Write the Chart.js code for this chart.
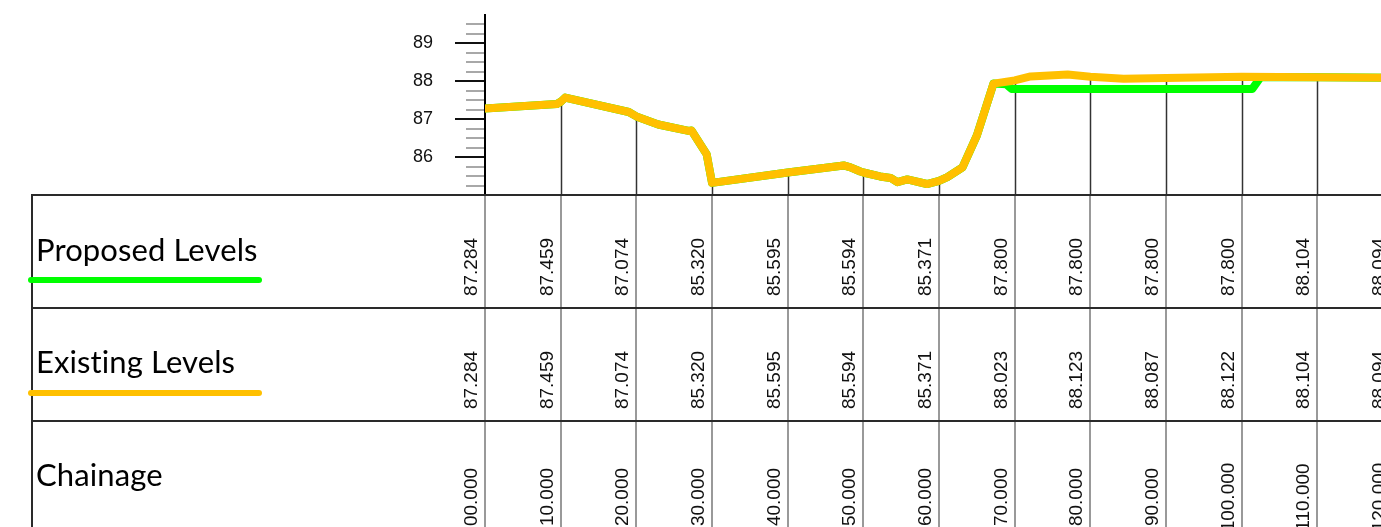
<!DOCTYPE html>
<html>
<head>
<meta charset="utf-8">
<script src="https://cdn.jsdelivr.net/npm/chart.js@4.4.1/dist/chart.umd.min.js"></script>
<style>
html, body { margin: 0; padding: 0; background: #fff; overflow: hidden; }
#wrap { width: 1499px; height: 560px; }
</style>
</head>
<body>
<div id="wrap"><canvas id="sezione" width="1499" height="560"></canvas></div>
<script>
// profilo longitudinale: livelli esistenti e di progetto
const existingCh = [0, 9.5, 10, 10.6, 19, 20, 22.9, 26.9, 27.3, 29.3, 30, 40, 47.4, 48.3, 49.6, 50,
    52.2, 53.6, 54.5, 55.8, 58.4, 60, 61.1, 63.1, 65, 67.2, 70, 72.1, 77, 80, 84.4, 90, 100, 110, 120];
const existingLv = [87.284, 87.40, 87.459, 87.57, 87.19, 87.074, 86.86, 86.69, 86.70, 86.07, 85.320, 85.595, 85.78, 85.73, 85.62, 85.594,
    85.49, 85.45, 85.34, 85.41, 85.29, 85.371, 85.47, 85.73, 86.57, 87.94, 88.023, 88.13, 88.18, 88.123, 88.07, 88.087, 88.122, 88.104, 88.094];

const proposedCh = [0, 9.5, 10, 10.6, 19, 20, 22.9, 26.9, 27.3, 29.3, 30, 40, 47.4, 48.3, 49.6, 50,
    52.2, 53.6, 54.5, 55.8, 58.4, 60, 61.1, 63.1, 65, 67.2, 68.9, 69.6, 70, 80, 90, 100, 101.4, 102.5, 110, 120];
const proposedLv = [87.284, 87.40, 87.459, 87.57, 87.19, 87.074, 86.86, 86.69, 86.70, 86.07, 85.320, 85.595, 85.78, 85.73, 85.62, 85.594,
    85.49, 85.45, 85.34, 85.41, 85.29, 85.371, 85.47, 85.73, 86.57, 87.94, 87.92, 87.80, 87.800, 87.800, 87.800, 87.800, 87.80, 88.11, 88.104, 88.094];

// valori della tabella
const tableCh = [0, 10, 20, 30, 40, 50, 60, 70, 80, 90, 100, 110, 120];
const proposedAt = [87.284, 87.459, 87.074, 85.320, 85.595, 85.594, 85.371, 87.800, 87.800, 87.800, 87.800, 88.104, 88.094];
const existingAt = [87.284, 87.459, 87.074, 85.320, 85.595, 85.594, 85.371, 88.023, 88.123, 88.087, 88.122, 88.104, 88.094];

const rowNames = ['Proposed Levels', 'Existing Levels', 'Chainage'];
const colProposed = '#00ff00';
const colExisting = '#ffc000';

function punti(ch, lv){
    return ch.map((c, i) => ({ x: c, y: lv[i] }));
}

function fmtCh(c){
    return String(c).padStart(2, '0') + '.000';
}

const tabella = {
    id: 'tabella',
    beforeDatasetsDraw(chart){
        const ctx = chart.ctx, xs = chart.scales.x, ys = chart.scales.y;
        const base = chart.chartArea.bottom;
        const axisX = chart.chartArea.left;
        ctx.save();
        // tacche asse y
        ys.ticks.forEach(t => {
            const v = t.value;
            if (v <= ys.min || v >= ys.max) return;
            const py = Math.round(ys.getPixelForValue(v));
            const major = Number.isInteger(v);
            ctx.strokeStyle = major ? '#111' : '#a8a8a8';
            ctx.lineWidth = 2;
            ctx.beginPath();
            ctx.moveTo(axisX - (major ? 30 : 19), py);
            ctx.lineTo(axisX - 1, py);
            ctx.stroke();
        });
        // linee verticali nel profilo
        ctx.strokeStyle = '#333';
        ctx.lineWidth = 1.5;
        tableCh.forEach((c, i) => {
            if (c === 0) return;
            const px = Math.round(xs.getPixelForValue(c)) + 0.5;
            const top = ys.getPixelForValue(Math.max(existingAt[i], proposedAt[i]));
            ctx.beginPath();
            ctx.moveTo(px, top);
            ctx.lineTo(px, base);
            ctx.stroke();
        });
        ctx.restore();
    },
    afterDraw(chart){
        const ctx = chart.ctx, xs = chart.scales.x;
        const W = chart.width, H = chart.height;
        const r0 = Math.round(chart.chartArea.bottom);
        const rows = [r0, r0 + 113, r0 + 226];
        ctx.save();

        // colonne
        ctx.strokeStyle = '#999';
        ctx.lineWidth = 2;
        tableCh.forEach(c => {
            const px = Math.round(xs.getPixelForValue(c));
            ctx.beginPath();
            ctx.moveTo(px, r0);
            ctx.lineTo(px, H);
            ctx.stroke();
        });

        // righe e bordo sinistro
        ctx.strokeStyle = '#2a2a2a';
        ctx.lineWidth = 2;
        rows.forEach(ry => {
            ctx.beginPath();
            ctx.moveTo(32, ry);
            ctx.lineTo(W, ry);
            ctx.stroke();
        });
        ctx.beginPath();
        ctx.moveTo(32, r0 - 1);
        ctx.lineTo(32, H);
        ctx.stroke();

        // nomi righe
        ctx.fillStyle = '#000';
        ctx.font = '31px Lato';
        ctx.letterSpacing = '0.1px';
        ctx.textAlign = 'left';
        ctx.textBaseline = 'alphabetic';
        ctx.fillText(rowNames[0], 36, rows[0] + 66);
        ctx.fillText(rowNames[1], 36, rows[1] + 65);
        ctx.fillText(rowNames[2], 36, rows[2] + 65);
        ctx.letterSpacing = '0px';

        // legenda
        ctx.lineCap = 'round';
        ctx.lineWidth = 6;
        ctx.strokeStyle = colProposed;
        ctx.beginPath(); ctx.moveTo(31, rows[0] + 85); ctx.lineTo(259, rows[0] + 85); ctx.stroke();
        ctx.strokeStyle = colExisting;
        ctx.beginPath(); ctx.moveTo(31, rows[1] + 85); ctx.lineTo(259, rows[1] + 85); ctx.stroke();

        // valori ruotati
        ctx.fillStyle = '#111';
        ctx.font = '19px "Liberation Sans", Arial, sans-serif';
        ctx.textAlign = 'center';
        tableCh.forEach((c, i) => {
            const bx = Math.round(xs.getPixelForValue(c)) - 8;
            const testi = [proposedAt[i].toFixed(3), existingAt[i].toFixed(3), fmtCh(c)];
            const centri = [rows[0] + 72, rows[1] + 72, rows[2] + 76];
            testi.forEach((t, k) => {
                ctx.save();
                ctx.translate(bx, centri[k]);
                ctx.rotate(-Math.PI / 2);
                ctx.fillText(t, 0, 0);
                ctx.restore();
            });
        });
        ctx.restore();
    }
};

const config = {
    type: 'line',
    data: {
        datasets: [{
            label: 'Existing Levels',
            data: punti(existingCh, existingLv),
            borderColor: colExisting,
            borderWidth: 8,
            order: 0
        }, {
            label: 'Proposed Levels',
            data: punti(proposedCh, proposedLv),
            borderColor: colProposed,
            borderWidth: 8,
            order: 1
        }]
    },
    options: {
        responsive: false,
        animation: false,
        devicePixelRatio: 1,
        layout: { padding: { left: 0, right: 0, top: 15, bottom: 365 } },
        elements: {
            point: { radius: 0 },
            line: { tension: 0, borderJoinStyle: 'round', borderCapStyle: 'round' }
        },
        scales: {
            x: { type: 'linear', min: 0, max: 134, display: false },
            y: {
                min: 85, max: 89.75,
                afterFit(scale){
                    scale.width = 485;
                    scale.paddingTop = 0;
                    scale.paddingBottom = 0;
                    scale.paddingLeft = 0;
                    scale.paddingRight = 0;
                },
                grid: { display: false, drawTicks: false },
                border: { display: true, color: '#000', width: 2 },
                ticks: {
                    stepSize: 0.25,
                    autoSkip: false,
                    padding: 52,
                    color: '#111',
                    font: { family: '"Liberation Sans", Arial, sans-serif', size: 18 },
                    callback: v => (Number.isInteger(v) && v > 85) ? String(v) : ''
                }
            }
        },
        plugins: { legend: { display: false }, tooltip: { enabled: false } }
    },
    plugins: [tabella]
};

new Chart(document.getElementById('sezione'), config);
</script>
</body>
</html>
